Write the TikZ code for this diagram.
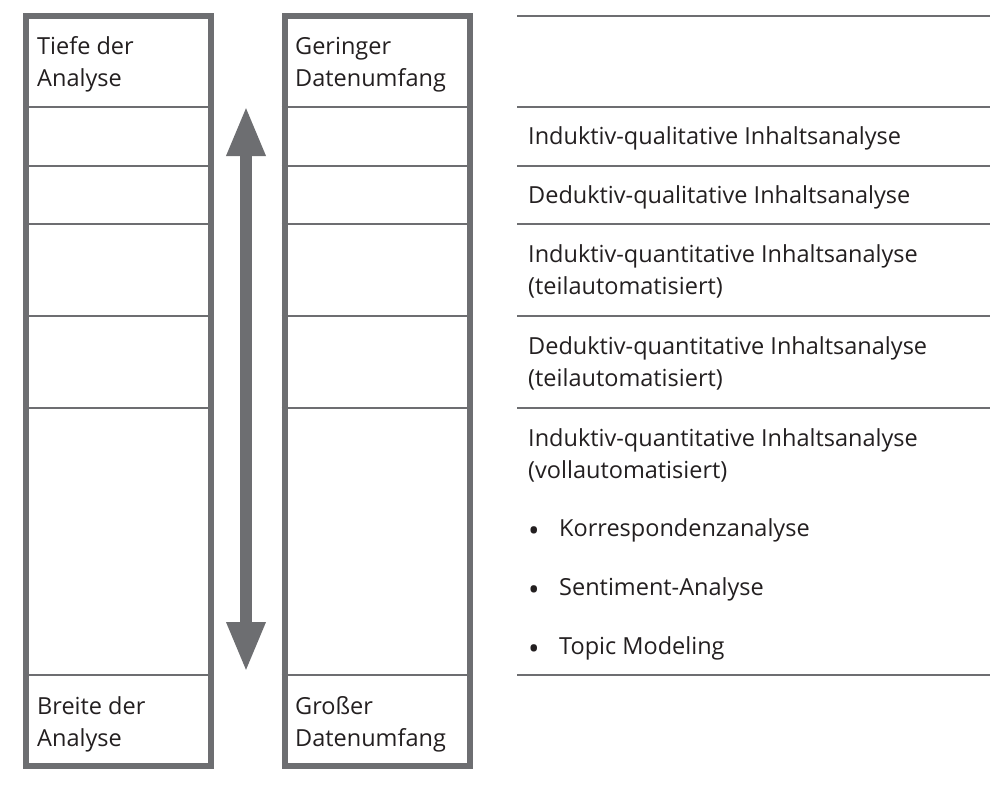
\documentclass[tikz,border=0pt]{standalone}
\usepackage{fontspec}
\setmainfont{Open Sans}
\usepackage{graphicx}
\usepackage{tikz}
\usetikzlibrary{arrows.meta}
\definecolor{frame}{HTML}{6D6E71}
\definecolor{ink}{HTML}{231F20}
\newcommand{\itembullet}{\makebox[31pt][l]{\raisebox{-5.7pt}{\scalebox{1.3}{\textbullet}}}}

\begin{document}
\begin{tikzpicture}[x=1pt, y=-1pt,
    colbox/.style={draw=frame, line width=6pt, minimum width=185pt, minimum height=750pt, inner sep=0pt},
    divider/.style={draw=frame, line width=2pt},
    lbl/.style={anchor=base west, inner sep=0pt, align=left, text=ink, font=\fontsize{23.5}{32}\selectfont},
    bigarrow/.style={draw=frame, line width=12pt, {Triangle[length=50pt,width=36pt]}-{Triangle[length=50pt,width=36pt]}}]
    \useasboundingbox (0,0) rectangle (990,785);
    \node[colbox] (depth) at (118.5,391) {};
    \node[colbox] (volume) at (377,391) {};
    \foreach \y in {107,166,224,316,408,675} {
        \draw[divider] (depth.west |- 0,\y) -- (depth.east |- 0,\y);
        \draw[divider] (volume.west |- 0,\y) -- (volume.east |- 0,\y);
    }
    \foreach \y in {16,107,166,224,316,408,675}
        \draw[divider] (517,\y) -- (990,\y);
    \node[lbl] (deep) at (37,86) {Tiefe der\\Analyse};
    \node[lbl] (broad) at (37,746) {Breite der\\Analyse};
    \node[lbl] (small) at (295,86) {Geringer\\Datenumfang};
    \node[lbl] (large) at (295,746) {Gro\ss er\\Datenumfang};
    \coordinate (up) at (246,106);
    \coordinate (down) at (246,672);
    \draw[bigarrow] (up) -- (down);
    \node[lbl] (m1) at (528,144) {Induktiv-qualitative Inhaltsanalyse};
    \node[lbl] (m2) at (528,203) {Deduktiv-qualitative Inhaltsanalyse};
    \node[lbl] (m3) at (528,294) {Induktiv-quantitative Inhaltsanalyse\\(teilautomatisiert)};
    \node[lbl] (m4) at (528,386) {Deduktiv-quantitative Inhaltsanalyse\\(teilautomatisiert)};
    \node[lbl] (m5) at (528,478) {Induktiv-quantitative Inhaltsanalyse\\(vollautomatisiert)};
    \node[lbl] (b1) at (528,536) {\itembullet Korrespondenzanalyse};
    \node[lbl] (b2) at (528,595) {\itembullet Sentiment-Analyse};
    \node[lbl] (b3) at (528,654) {\itembullet Topic Modeling};
\end{tikzpicture}
\end{document}
